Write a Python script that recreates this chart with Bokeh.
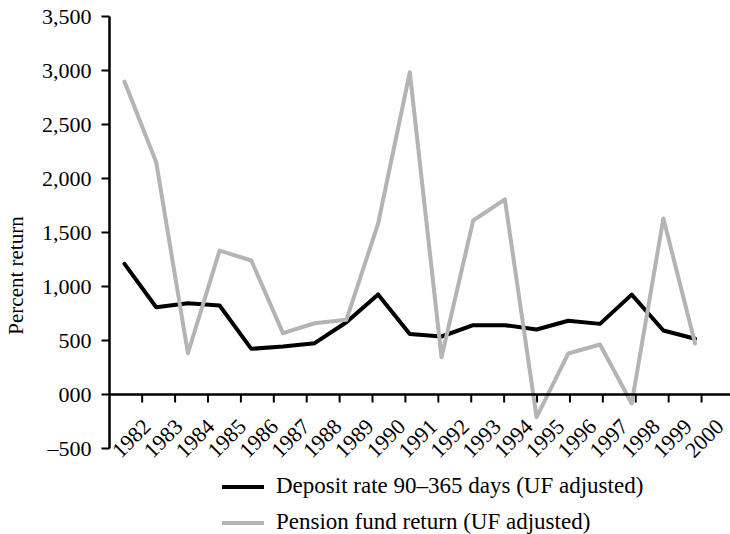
import math
from bokeh.plotting import figure
from bokeh.models import FixedTicker, Span, Legend, LegendItem
from bokeh.core.properties import value
from bokeh.embed import file_html
from bokeh.resources import INLINE

# ---- data ----
years = ["1982", "1983", "1984", "1985", "1986", "1987", "1988", "1989", "1990", "1991",
         "1992", "1993", "1994", "1995", "1996", "1997", "1998", "1999", "2000"]
deposit = [1210, 808, 845, 824, 423, 444, 475, 669, 926, 560,
           537, 642, 642, 602, 683, 654, 925, 593, 516]
pension = [2898, 2151, 382, 1333, 1241, 568, 660, 692, 1581, 2984,
           345, 1611, 1806, -210, 380, 463, -83, 1630, 472]
y_ticks = [-500, 0, 500, 1000, 1500, 2000, 2500, 3000, 3500]
y_tick_labels = ["\u2013500", "000", "500", "1,000", "1,500", "2,000", "2,500", "3,000", "3,500"]
series_names = ["Deposit rate 90\u2013365 days (UF adjusted)", "Pension fund return (UF adjusted)"]

FONT = "Liberation Serif"
idx = list(range(len(years)))

W, H = 730, 534
TOP, LEFT = 16, 109
px_per_unit = 432 / 4000.0
y_bottom = 3500 - (H - TOP) / px_per_unit

p = figure(width=W, height=H, x_range=(-0.473, 19.117), y_range=(y_bottom, 3500),
           output_backend="svg", toolbar_location=None, x_axis_location=None,
           min_border_left=LEFT, min_border_right=0, min_border_top=TOP, min_border_bottom=0)
p.outline_line_color = None
p.grid.visible = False
p.background_fill_color = "white"

# y axis
ya = p.yaxis[0]
ya.ticker = FixedTicker(ticks=y_ticks)
ya.major_label_overrides = {t: s for t, s in zip(y_ticks, y_tick_labels)}
ya.bounds = (y_ticks[0], y_ticks[-1])
ya.axis_line_width = 2.5
ya.axis_line_color = "black"
ya.major_tick_line_width = 2
ya.major_tick_line_color = "black"
ya.major_tick_out = 8
ya.major_tick_in = 0
ya.minor_tick_line_color = None
ya.major_label_standoff = 10
ya.major_label_text_font = FONT
ya.major_label_text_font_size = "22px"
ya.major_label_text_color = "black"
ya.axis_label = "Percent return"
ya.axis_label_text_font = FONT
ya.axis_label_text_font_size = "21px"
ya.axis_label_text_font_style = "normal"
ya.axis_label_text_color = "black"
ya.axis_label_standoff = 11

# x axis drawn at y = 0 inside the frame
tick_len = 8 / px_per_unit
tick_x = [0.558 + 1.038 * k for k in range(len(years) - 1)]
label_x = [0.716 + 1.004 * i for i in idx]
p.add_layout(Span(location=0, dimension="width", line_color="black", line_width=2.5))
p.segment(x0=tick_x, y0=[0] * len(tick_x), x1=tick_x, y1=[-tick_len] * len(tick_x),
          line_color="black", line_width=2)
p.text(x=label_x, y=[-28.5 / px_per_unit] * len(years), text=years, angle=math.pi / 4,
       text_align="right", text_baseline="middle", text_font=value(FONT),
       text_font_size="22px", text_color="black")

# series
r_dep = p.line(idx, deposit, line_color="black", line_width=4, line_join="round", line_cap="round")
r_pen = p.line(idx, pension, line_color="#b4b4b4", line_width=4, line_join="round", line_cap="round")

legend = Legend(items=[LegendItem(label=series_names[0], renderers=[r_dep]),
                       LegendItem(label=series_names[1], renderers=[r_pen])],
                location=(113, -1), orientation="vertical", glyph_width=42, glyph_height=25,
                label_standoff=12, spacing=10, padding=0, margin=0, label_height=25,
                border_line_color=None, background_fill_alpha=0,
                label_text_font=FONT, label_text_font_size="23px", label_text_color="black")
p.add_layout(legend)

open("out.html", "w").write(file_html(p, INLINE))
